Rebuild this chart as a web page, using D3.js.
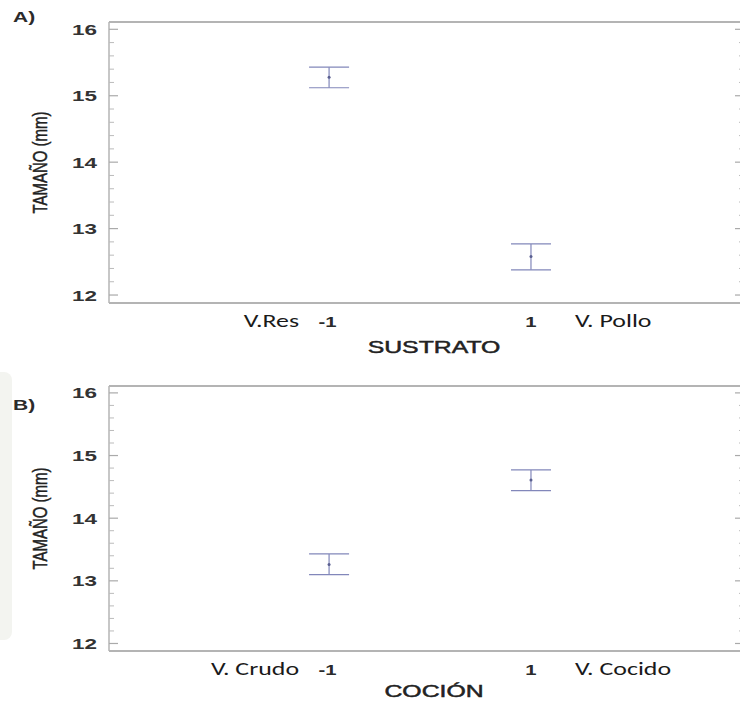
<!DOCTYPE html>
<html>
<head>
<meta charset="utf-8">
<script src="https://cdn.jsdelivr.net/npm/d3@7"></script>
<style>
  body { margin: 0; background: #fff; }
  svg { display: block; }
  text { font-family: "Liberation Sans", Arial, sans-serif; fill: #2b2b2b; }
  .lbl { font-family: Carlito, "Open Sans", Lato, sans-serif; font-weight: normal; fill: #1a1a1a; }
</style>
</head>
<body>
<svg id="chart" width="740" height="702"></svg>
<script>
// factor levels (coded)
let levels = [-1, 1];
let yTicks = [12, 13, 14, 15, 16];

// A) SUSTRATO
let sustratoMean = [15.28, 12.58];
let sustratoLow = [15.12, 12.38];
let sustratoHigh = [15.43, 12.77];
let sustratoNames = ["V.Res", "V. Pollo"];

// B) COCIÓN
let coccionMean = [13.26, 14.61];
let coccionLow = [13.10, 14.44];
let coccionHigh = [13.43, 14.77];
let coccionNames = ["V. Crudo", "V. Cocido"];

let panels = [
    {tag: "A)", title: "SUSTRATO", mean: sustratoMean, low: sustratoLow, high: sustratoHigh, names: sustratoNames,
        top: 22, bottom: 303, tagY: 22, titleY: 353},
    {tag: "B)", title: "COCIÓN", mean: coccionMean, low: coccionLow, high: coccionHigh, names: coccionNames,
        top: 386, bottom: 651, tagY: 410, titleY: 697}
];

let svg = d3.select("#chart");
let left = 109, right = 745;
let frameColor = "#b4b4b4";
let barColor = "#8287ba";

// faint watermark on the left edge
svg.append("rect").attr("x", -8).attr("y", 372).attr("width", 20).attr("height", 268)
    .attr("rx", 8).style("fill", "#f3f4f0");

// horizontally stretched text, like the scanned figure
function place(sel, x, y, k, rot){
    sel.attr("transform", "translate(" + x + "," + y + ") scale(" + k + ",1)" + (rot ? " rotate(" + rot + ")" : ""));
    return sel;
}

for (let p of panels) {
    let x = d3.scaleLinear().domain([-3.18, 3.12]).range([left, right]);
    let y = d3.scaleLinear().domain([11.88, 16.11]).range([p.bottom, p.top]);
    let g = svg.append("g");

    // frame
    g.append("line").attr("x1", left).attr("x2", right).attr("y1", p.top).attr("y2", p.top)
        .style("stroke", frameColor).style("stroke-width", 2);
    g.append("line").attr("x1", left).attr("x2", right).attr("y1", p.bottom).attr("y2", p.bottom)
        .style("stroke", frameColor).style("stroke-width", 2);

    // left / right axes with inward ticks
    let minor = d3.range(12, 16.01, 0.2).filter(v => Math.abs(v - Math.round(v)) > 0.01);
    for (let side of [{x0: left, dir: 1}, {x0: right - 1, dir: -1}]) {
        g.append("line").attr("x1", side.x0).attr("x2", side.x0).attr("y1", p.top).attr("y2", p.bottom)
            .style("stroke", frameColor).style("stroke-width", 1.5);
        g.selectAll(null).data(yTicks).enter().append("line")
            .attr("x1", side.x0).attr("x2", side.x0 + side.dir * 9)
            .attr("y1", d => y(d)).attr("y2", d => y(d))
            .style("stroke", "#aaa").style("stroke-width", 1.2);
        g.selectAll(null).data(minor).enter().append("line")
            .attr("x1", side.x0).attr("x2", side.x0 + side.dir * 5)
            .attr("y1", d => y(d)).attr("y2", d => y(d))
            .style("stroke", "#bbb").style("stroke-width", 1);
    }

    // y tick labels
    g.selectAll(null).data(yTicks).enter().append("text")
        .attr("text-anchor", "end")
        .style("font-size", "15.5px").style("font-weight", "bold").style("fill", "#333")
        .text(d => d)
        .each(function(d){ place(d3.select(this), 97, y(d) + 5.5, 1.45); });

    // y axis title
    place(g.append("text").attr("text-anchor", "middle")
        .style("font-size", "15px").style("fill", "#222").style("stroke", "#222").style("stroke-width", 0.35)
        .text("TAMAÑO (mm)"), 47, (p.top + p.bottom) / 2, 1.3, -90);

    // panel tag
    place(g.append("text").style("font-size", "14px").style("font-weight", "bold").text(p.tag),
        13, p.tagY, 1.5);

    // x tick labels
    g.selectAll(null).data(levels).enter().append("text")
        .attr("text-anchor", "middle")
        .style("font-size", "14px").style("font-weight", "bold")
        .text(d => d)
        .each(function(d){ place(d3.select(this), x(d) - (d < 0 ? 1.5 : 0), p.bottom + 24, 1.45); });

    // level names
    place(g.append("text").attr("class", "lbl").attr("text-anchor", "end")
        .style("font-size", "18.5px").text(p.names[0]), x(-1) - 30, p.bottom + 24, 1.4);
    place(g.append("text").attr("class", "lbl").attr("text-anchor", "start")
        .style("font-size", "18.5px").text(p.names[1]), x(1) + 44, p.bottom + 24, 1.4);

    // x axis title
    place(g.append("text").attr("text-anchor", "middle")
        .style("font-size", "16px").style("fill", "#222").style("stroke", "#222").style("stroke-width", 0.45)
        .text(p.title),
        (x(-1) + x(1)) / 2 + 4, p.titleY, 1.55);

    // error bars
    let bars = g.selectAll("g.bar").data(levels).enter().append("g").attr("class", "bar");
    bars.append("line")
        .attr("x1", d => x(d)).attr("x2", d => x(d))
        .attr("y1", (d, i) => y(p.low[i])).attr("y2", (d, i) => y(p.high[i]))
        .style("stroke", barColor).style("stroke-width", 1.2);
    for (let v of ["low", "high"]) {
        bars.append("line")
            .attr("x1", d => x(d) - 20).attr("x2", d => x(d) + 20)
            .attr("y1", (d, i) => y(p[v][i])).attr("y2", (d, i) => y(p[v][i]))
            .style("stroke", barColor).style("stroke-width", 1.2);
    }
    bars.append("circle")
        .attr("cx", d => x(d)).attr("cy", (d, i) => y(p.mean[i]))
        .attr("r", 1.5).style("fill", "#5a5f90");
}
</script>
</body>
</html>
